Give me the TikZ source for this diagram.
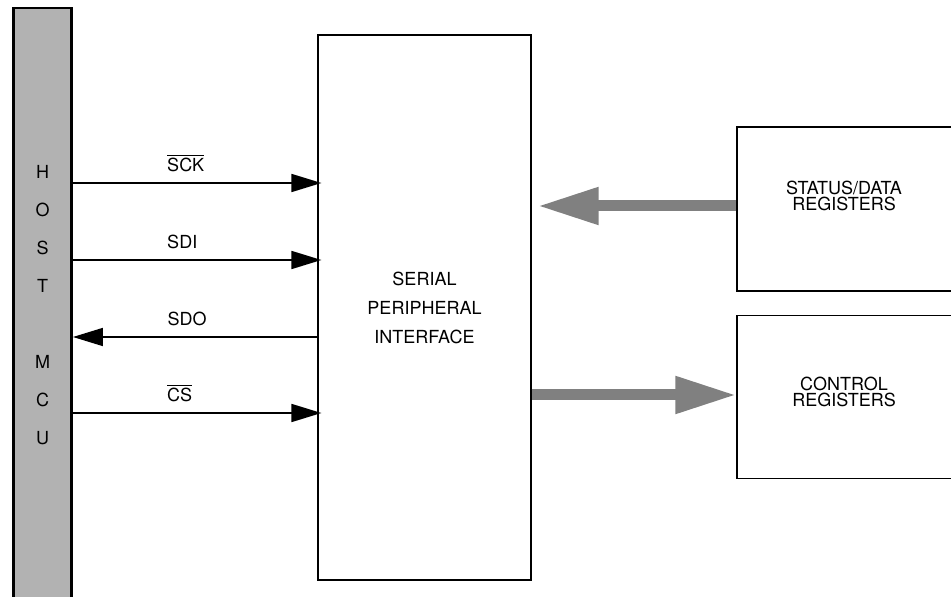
\documentclass[tikz,border=0pt]{standalone}
\usepackage{fontspec}
\setmainfont{TeX Gyre Heros}
\usetikzlibrary{positioning,arrows.meta}
\begin{document}
\begin{tikzpicture}[x=0.5pt, y=-0.5pt, font=\fontsize{9}{10}\selectfont,
    box/.style={draw, rectangle, line width=0.6pt, align=center},
    sig/.style={line width=0.85pt, -{Triangle[length=15pt, width=9pt]}},
    bus/.style={draw=black!50, line width=5.5pt, -{Triangle[length=30.5pt, width=17.5pt]}}]
    \useasboundingbox (0,0) rectangle (951,597);
    % Nodes
    \node (host) [draw, rectangle, fill=black!30, line width=1.25pt, minimum width=29pt, minimum height=297pt, align=center, font=\fontsize{9}{19}\selectfont] at (42.7,305) {H\\O\\S\\T\\[19pt]M\\C\\U};
    \node (spi) [box, minimum width=106.5pt, minimum height=272.5pt, font=\fontsize{9}{14.5}\selectfont] at (424.5,307.5) {SERIAL\\PERIPHERAL\\INTERFACE};
    \node (status) [box, minimum width=119pt, minimum height=82pt] at (856,209) {};
    \node (control) [box, minimum width=119pt, minimum height=81.5pt, below=11.5pt of status] {};
    \node (statustext) [align=center, font=\fontsize{9}{8}\selectfont] at (844,196) {STATUS/DATA\\REGISTERS};
    \node (controltext) [align=center, font=\fontsize{9}{8}\selectfont] at (844,392) {CONTROL\\REGISTERS};

    % Edges
    \draw[sig, shorten >=-2pt] (host.east |- 0,183) -- (spi.west |- 0,183) node[pos=0.355, anchor=base west, yshift=5.75pt] {$\overline{\mbox{SCK}}$};
    \draw[sig, shorten >=-2pt] (host.east |- 0,260) -- (spi.west |- 0,260) node[pos=0.355, anchor=base west, yshift=5.75pt] {SDI};
    \draw[sig] (spi.west |- 0,337) -- (host.east |- 0,337) node[pos=0.643, anchor=base west, yshift=5.75pt] {SDO};
    \draw[sig, shorten >=-2pt] (host.east |- 0,413) -- (spi.west |- 0,413) node[pos=0.355, anchor=base west, yshift=5.75pt] {$\overline{\mbox{CS}}$};
    \draw[bus, shorten >=3pt] (status.west |- 0,206) -- (spi.east |- 0,206);
    \draw[bus] (spi.east |- 0,395) -- (control.west |- 0,395);
\end{tikzpicture}
\end{document}
